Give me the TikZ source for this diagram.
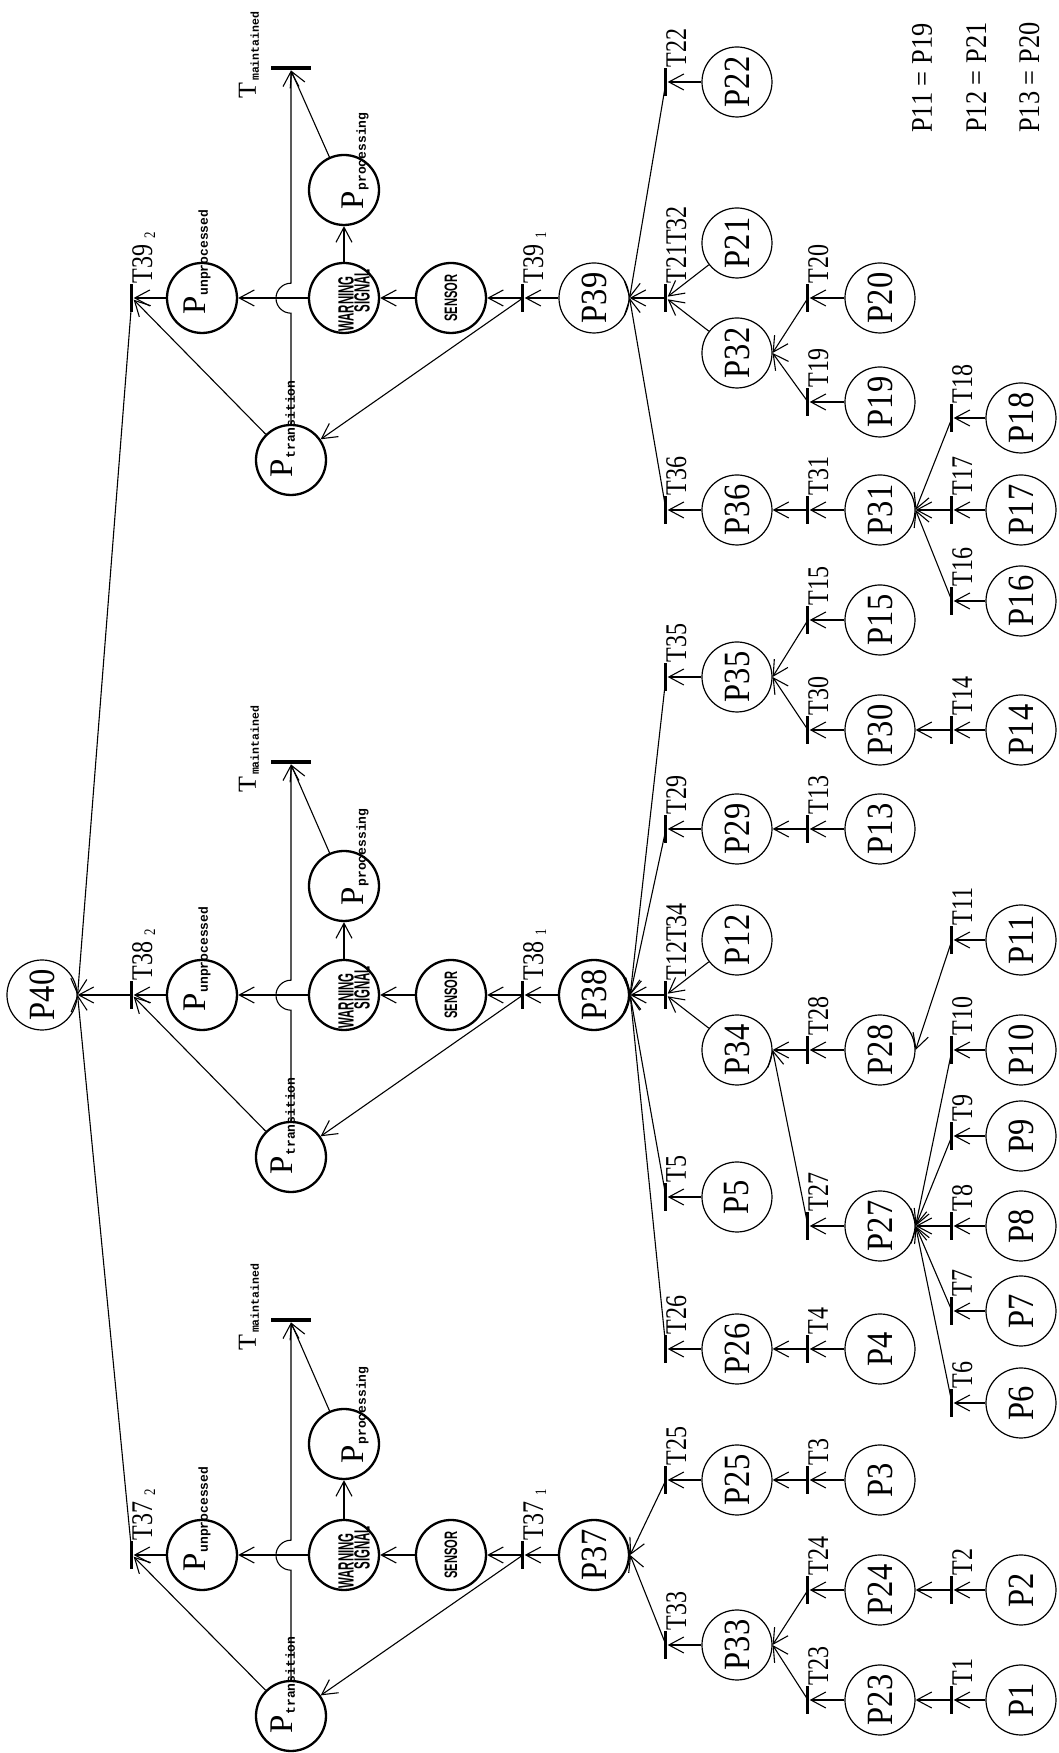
\documentclass[tikz,border=0pt]{standalone}
\usepackage{fontspec}
\setmainfont{Liberation Serif}
\newfontfamily\placefont[FakeStretch=0.88]{Liberation Serif}
\newfontfamily\transfont[FakeStretch=0.8]{Liberation Serif}
\newfontfamily\tagfont{Liberation Mono}
\newfontfamily\signfont[FakeStretch=0.52]{Liberation Sans}
\newfontfamily\sensfont[FakeStretch=0.62]{Liberation Sans}
\usetikzlibrary{arrows.meta}

% subscript of the split transitions T37_1, T37_2, ...
\newcommand\tsub[1]{\kern6pt\raisebox{-3pt}{\fontsize{16}{16}\selectfont #1}}
% big P with a spaced bold subscript
\newcommand\placetag[2]{{\fontsize{33}{33}\selectfont #1}\kern1pt\raisebox{-2pt}{\tagfont\bfseries\fontsize{13}{13}\selectfont #2}}
\newcommand\maintag{{\fontsize{26}{26}\selectfont T}\kern2pt\raisebox{-3pt}{\tagfont\bfseries\fontsize{11.5}{11.5}\selectfont maintained}}

\tikzset{
  place/.style={circle, draw, line width=1.2pt, minimum size=70pt, inner sep=0pt,
    font=\placefont\fontsize{37}{37}\selectfont},
  keyplace/.style={place, line width=2.3pt},
  tbar/.style={rectangle, fill=black, minimum width=28pt, minimum height=3pt, inner sep=0pt},
  mbar/.style={rectangle, fill=black, minimum width=4.5pt, minimum height=40pt, inner sep=0pt},
  tname/.style={anchor=north west, inner sep=0pt, font=\transfont\fontsize{30}{30}\selectfont},
  tagtext/.style={anchor=base west, inner sep=0pt},
  signtext/.style={inner sep=0pt, font=\signfont\bfseries\fontsize{22}{22}\selectfont},
  senstext/.style={inner sep=0pt, font=\sensfont\bfseries\fontsize{18}{18}\selectfont},
  flow/.style={line width=1.1pt, -{Straight Barb[length=15pt,width=16pt]}},
  hopnode/.style={circle, minimum size=30pt, inner sep=0pt},
  note/.style={anchor=base west, inner sep=0pt, font=\placefont\fontsize{30}{30}\selectfont}
}

\newcommand\mkplace[3]{\node[place] (#1) at (#2,#3) {#1};}
\newcommand\mktrans[3]{\node[tbar] (#1) at (#2,#3) {}; \node[tname] (#1l) at (#1.east) {#1};}

% sensor / warning sub-net between T<n>_1 and T<n>_2
% #1 prefix, #2 number, #3 column x, #4 processing x, #5 maintained x, #6 transition x
\newcommand\sensorgroup[6]{%
  \node[tbar] (T#2b) at (#3,926) {};
  \node[tname] (T#2bl) at (T#2b.east) {T#2\tsub{2}};
  \node[keyplace] (#1un) at (#3,856) {};
  \node[tagtext] (#1unl) at (#3-17,852) {\placetag{P}{unprocessed}};
  \node[hopnode] (#1hop) at (#3,767) {};
  \node[keyplace] (#1warn) at (#3,714) {};
  \node[signtext] (#1warnA) at (#3-6,712) {WARNING};
  \node[signtext] (#1warnB) at (#3+7,696) {SIGNAL};
  \node[keyplace] (#1sens) at (#3,607) {};
  \node[senstext] (#1sensl) at (#1sens) {SENSOR};
  \node[tbar] (T#2a) at (#3,535) {};
  \node[tname] (T#2al) at (T#2a.east) {T#2\tsub{1}};
  \node[keyplace] (#1proc) at (#4,714) {};
  \node[tagtext] (#1procl) at (#4-20,694) {\placetag{P}{processing}};
  \node[mbar] (#1maint) at (#5,767) {};
  \node[tagtext] (#1maintl) at (#5-31,802) {\maintag};
  \node[keyplace] (#1trans) at (#6,767) {};
  \node[tagtext] (#1transl) at (#6-18,765) {\placetag{P}{transition}};
  \draw[flow] (T#2a.center) -- (#1sens);
  \draw[flow] (#1sens) -- (#1warn);
  \draw[flow] (#1warn) -- (#1un);
  \draw[flow] (#1un) -- (T#2b);
  \draw[flow] (#1warn) -- (#1proc);
  \draw[flow] (#1proc) -- (#1maint.west);
  \draw[flow] (#1trans.east) -- (#1hop.west) arc[start angle=180, end angle=0, radius=15pt] -- (#1maint.west);
  \draw[flow] (#1trans) -- (T#2b);
  \draw[flow] (T#2a.center) -- (#1trans);
}

\begin{document}
\begin{tikzpicture}[x=1pt,y=1pt]
\fill[white] (-1058,0) rectangle (0,1753);
\useasboundingbox (-1058,0) rectangle (0,1753);
\begin{scope}[rotate=90, transform shape]
  % final place
  \node[place] (P40) at (758,1016) {P40};

  % the three sensor sub-nets
  \sensorgroup{A}{37}{198}{309}{433}{37}
  \sensorgroup{B}{38}{758}{867}{991}{596}
  \sensorgroup{C}{39}{1455}{1563}{1685}{1293}
  \draw[flow] (T37b.center) -- (P40.south);
  \draw[flow] (T38b.center) -- (P40.south);
  \draw[flow] (T39b.center) -- (P40.south);

  % places feeding the sub-nets
  \node[keyplace] (P37) at (198,464) {P37};
  \node[keyplace] (P38) at (758,464) {P38};
  \node[place] (P39) at (1455,464) {P39};
  \draw[flow] (P37) -- (T37a);
  \draw[flow] (P38) -- (T38a);
  \draw[flow] (P39) -- (T39a);

  % level 4 transitions
  \mktrans{T33}{108}{392}
  \mktrans{T25}{273}{392}
  \mktrans{T26}{404}{392}
  \mktrans{T5}{556}{392}
  \mktrans{T12T34}{758}{392}
  \mktrans{T29}{924}{392}
  \mktrans{T35}{1076}{392}
  \mktrans{T36}{1243}{392}
  \mktrans{T21T32}{1455}{392}
  \mktrans{T22}{1671}{392}

  % level 5 places
  \mkplace{P33}{108}{321}
  \mkplace{P25}{273}{321}
  \mkplace{P26}{404}{321}
  \mkplace{P5}{556}{321}
  \mkplace{P34}{703}{321}
  \mkplace{P12}{813}{321}
  \mkplace{P29}{924}{321}
  \mkplace{P35}{1076}{321}
  \mkplace{P36}{1243}{321}
  \mkplace{P32}{1400}{321}
  \mkplace{P21}{1510}{321}
  \mkplace{P22}{1671}{321}

  % level 6 transitions
  \mktrans{T23}{53}{250}
  \mktrans{T24}{163}{250}
  \mktrans{T3}{273}{250}
  \mktrans{T4}{404}{250}
  \mktrans{T27}{527}{250}
  \mktrans{T28}{703}{250}
  \mktrans{T13}{924}{250}
  \mktrans{T30}{1023}{250}
  \mktrans{T15}{1133}{250}
  \mktrans{T31}{1243}{250}
  \mktrans{T19}{1351}{250}
  \mktrans{T20}{1455}{250}

  % level 7 places
  \mkplace{P23}{53}{178}
  \mkplace{P24}{163}{178}
  \mkplace{P3}{273}{178}
  \mkplace{P4}{404}{178}
  \mkplace{P27}{527}{178}
  \mkplace{P28}{703}{178}
  \mkplace{P13}{924}{178}
  \mkplace{P30}{1023}{178}
  \mkplace{P15}{1133}{178}
  \mkplace{P31}{1243}{178}
  \mkplace{P19}{1351}{178}
  \mkplace{P20}{1455}{178}

  % level 8 transitions
  \mktrans{T1}{53}{106}
  \mktrans{T2}{163}{106}
  \mktrans{T6}{350}{106}
  \mktrans{T7}{442}{106}
  \mktrans{T8}{527}{106}
  \mktrans{T9}{617}{106}
  \mktrans{T10}{703}{106}
  \mktrans{T11}{813}{106}
  \mktrans{T14}{1023}{106}
  \mktrans{T16}{1152}{106}
  \mktrans{T17}{1243}{106}
  \mktrans{T18}{1335}{106}

  % level 9 places
  \mkplace{P1}{53}{37}
  \mkplace{P2}{163}{37}
  \mkplace{P6}{350}{37}
  \mkplace{P7}{442}{37}
  \mkplace{P8}{527}{37}
  \mkplace{P9}{617}{37}
  \mkplace{P10}{703}{37}
  \mkplace{P11}{813}{37}
  \mkplace{P14}{1023}{37}
  \mkplace{P16}{1152}{37}
  \mkplace{P17}{1243}{37}
  \mkplace{P18}{1335}{37}

  % branch into P37
  \draw[flow] (T33.center) -- (P37.south);
  \draw[flow] (T25.center) -- (P37.south);
  \draw[flow] (P33) -- (T33);
  \draw[flow] (P25) -- (T25);
  \draw[flow] (T23.center) -- (P33.south);
  \draw[flow] (T24.center) -- (P33.south);
  \draw[flow] (P23) -- (T23);
  \draw[flow] (P24) -- (T24);
  \draw[flow] (T1.center) -- (P23);
  \draw[flow] (T2.center) -- (P24);
  \draw[flow] (P1) -- (T1);
  \draw[flow] (P2) -- (T2);
  \draw[flow] (T3.center) -- (P25);
  \draw[flow] (P3) -- (T3);

  % branch into P38
  \draw[flow] (T26.center) -- (P38.south);
  \draw[flow] (T5.center) -- (P38.south);
  \draw[flow] (T12T34.center) -- (P38.south);
  \draw[flow] (T29.center) -- (P38.south);
  \draw[flow] (T35.center) -- (P38.south);
  \draw[flow] (P26) -- (T26);
  \draw[flow] (T4.center) -- (P26);
  \draw[flow] (P4) -- (T4);
  \draw[flow] (P5) -- (T5);
  \draw[flow] (P34) -- (T12T34);
  \draw[flow] (P12) -- (T12T34);
  \draw[flow] (T27.center) -- (P34.south);
  \draw[flow] (T28.center) -- (P34.south);
  \draw[flow] (P27) -- (T27);
  \draw[flow] (P28) -- (T28);
  \draw[flow] (T11.center) -- (P28.south);
  \draw[flow] (P11) -- (T11);
  \draw[flow] (T6.center) -- (P27.south);
  \draw[flow] (T7.center) -- (P27.south);
  \draw[flow] (T8.center) -- (P27.south);
  \draw[flow] (T9.center) -- (P27.south);
  \draw[flow] (T10.center) -- (P27.south);
  \draw[flow] (P6) -- (T6);
  \draw[flow] (P7) -- (T7);
  \draw[flow] (P8) -- (T8);
  \draw[flow] (P9) -- (T9);
  \draw[flow] (P10) -- (T10);
  \draw[flow] (P29) -- (T29);
  \draw[flow] (T13.center) -- (P29);
  \draw[flow] (P13) -- (T13);
  \draw[flow] (P35) -- (T35);
  \draw[flow] (T30.center) -- (P35.south);
  \draw[flow] (T15.center) -- (P35.south);
  \draw[flow] (P30) -- (T30);
  \draw[flow] (P15) -- (T15);
  \draw[flow] (T14.center) -- (P30);
  \draw[flow] (P14) -- (T14);

  % branch into P39
  \draw[flow] (T36.center) -- (P39.south);
  \draw[flow] (T21T32.center) -- (P39.south);
  \draw[flow] (T22.center) -- (P39.south);
  \draw[flow] (P36) -- (T36);
  \draw[flow] (T31.center) -- (P36);
  \draw[flow] (P31) -- (T31);
  \draw[flow] (T16.center) -- (P31.south);
  \draw[flow] (T17.center) -- (P31.south);
  \draw[flow] (T18.center) -- (P31.south);
  \draw[flow] (P16) -- (T16);
  \draw[flow] (P17) -- (T17);
  \draw[flow] (P18) -- (T18);
  \draw[flow] (P32) -- (T21T32);
  \draw[flow] (P21) -- (T21T32);
  \draw[flow] (T19.center) -- (P32.south);
  \draw[flow] (T20.center) -- (P32.south);
  \draw[flow] (P19) -- (T19);
  \draw[flow] (P20) -- (T20);
  \draw[flow] (P22) -- (T22);

  % shared places
  \node[note] (eq1) at (1620,126) {P11 = P19};
  \node[note] (eq2) at (1620,72) {P12 = P21};
  \node[note] (eq3) at (1620,19) {P13 = P20};
\end{scope}
\end{tikzpicture}
\end{document}
